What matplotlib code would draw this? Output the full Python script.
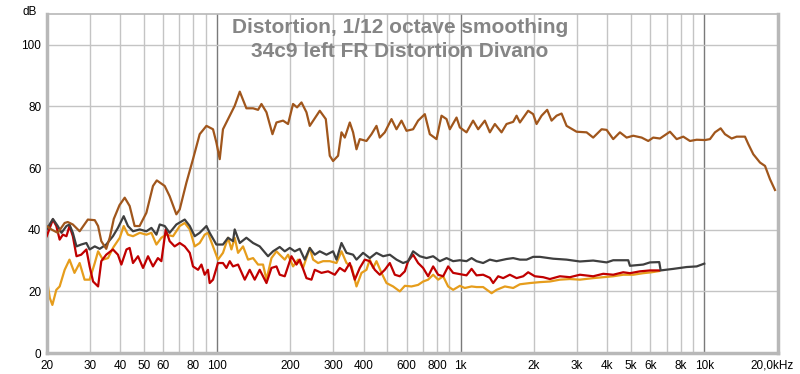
import numpy as np
import matplotlib.pyplot as plt
from matplotlib.transforms import ScaledTranslation

# fundamental (brown) - Hz / dB
brown_f = [20.0, 20.9, 22.2, 23.7, 24.4, 25.6, 27.3, 29.5, 31.5, 32.5, 33.5, 35.1, 36.3, 37.7, 39.8,
           41.8, 43.8, 45.9, 48.1, 51.3, 54.6, 56.6, 61.0, 63.9, 68.1, 70.3, 74.9, 79.7, 84.9, 90.5,
           96.3, 99.4, 102.6, 105.8, 112.8, 118.2, 124.0, 132.0, 140.6, 147.4, 152.2, 159.6, 168.9,
           175.4, 186.7, 195.7, 205.2, 213.1, 222.2, 232.9, 240.3, 264.1, 279.6, 290.3, 299.5, 314.0,
           324.3, 334.6, 350.8, 361.9, 373.7, 385.5, 410.7, 430.6, 451.4, 465.7, 488.3, 520.2, 545.4,
           571.8, 599.5, 638.1, 669.1, 712.9, 747.3, 796.2, 834.8, 875.2, 903.0, 962.0, 992.5, 1057,
           1125, 1180, 1257, 1318, 1382, 1472, 1543, 1643, 1697, 1751, 1893, 1985, 2049, 2149, 2266,
           2362, 2476, 2596, 2722, 2992, 3289, 3500, 3790, 3974, 4229, 4506, 4801, 5110, 5534, 5889,
           6174, 6579, 7231, 7703, 8200, 8737, 9308, 10067, 10553, 11064, 11676, 12162, 12956, 13584,
           14693, 15160, 15894, 16937, 17757, 18612, 19510]
brown_db = [41.2, 40.1, 39.0, 42.2, 42.5, 41.7, 39.5, 43.3, 43.1, 41.2, 36.3, 33.8, 37.5, 43.5, 48.0,
            50.4, 47.7, 41.2, 41.2, 45.5, 54.2, 56.0, 54.2, 50.9, 45.0, 46.6, 55.3, 62.9, 71.0, 73.7,
            72.6, 68.3, 62.9, 72.6, 77.0, 80.2, 84.8, 79.4, 79.4, 78.9, 80.8, 78.1, 71.0,
            74.8, 75.4, 74.3, 80.8, 79.7, 81.3, 78.1, 73.7, 78.6, 75.9, 64.0, 62.3, 64.0,
            71.6, 69.9, 74.8, 71.6, 66.1, 69.4, 68.8, 71.0, 73.7, 69.9, 71.6, 75.9, 72.6,
            75.4, 72.1, 72.6, 75.4, 77.5, 71.0, 69.4, 77.0, 75.9, 72.6, 76.4, 73.2, 71.6,
            75.4, 72.6, 75.4, 71.6, 74.3, 71.6, 74.3, 75.0, 77.0, 74.8, 78.6, 77.5, 74.3, 77.0, 78.9,
            75.4, 77.0, 77.7, 73.7, 71.8, 71.6, 69.9, 72.6, 72.4, 69.4, 71.6, 69.9, 70.5, 69.9, 68.8,
            69.9, 69.6, 71.8, 69.4, 70.2, 68.8, 69.2, 69.1, 69.4, 71.6, 72.9, 71.0, 69.6, 70.2,
            70.2, 67.8, 64.5, 61.8, 60.7, 56.4, 52.9]

# dark grey
grey_f = [20.0, 21.2, 22.2, 23.0, 24.1, 24.8, 25.6, 26.5, 27.7, 29.1, 30.0, 31.5, 33.0, 35.1, 37.4,
          39.2, 41.4, 43.1, 45.2, 48.2, 51.3, 53.8, 56.4, 58.2, 61.0, 63.9, 68.1, 73.7, 77.3, 81.0,
          84.9, 90.5, 93.3, 99.4, 105.8, 111.0, 116.3, 118.2, 124.0, 132.0, 140.6, 149.7, 162.0,
          169.8, 180.9, 189.7, 198.9, 208.5, 218.6, 229.2, 240.3, 251.9, 264.1, 281.4, 299.5, 309.3,
          324.3, 340.0, 361.9, 373.7, 397.7, 423.7, 451.4, 480.5, 512.0, 545.5, 580.6, 608.8, 638.2,
          679.9, 724.4, 771.2, 821.6, 875.3, 931.6, 992.5, 1057, 1109, 1162, 1237, 1318, 1404, 1543,
          1643, 1751, 1865, 1985, 2115, 2398, 2722, 3087, 3500, 3974, 4229, 4875, 4954, 5617, 5984,
          6535, 6622, 7458, 8469, 9308, 10000]
grey_db = [40.1, 43.5, 41.2, 39.0, 41.2, 41.7, 39.0, 34.6, 35.2, 35.7, 33.6, 34.6, 33.8, 35.2, 37.9,
           40.6, 44.4, 41.2, 39.5, 40.1, 39.5, 40.6, 38.4, 41.7, 41.2, 39.0, 41.7, 43.3, 41.2, 37.9,
           39.0, 41.2, 39.0, 35.2, 35.2, 37.4, 36.3, 40.1, 35.7, 37.4, 35.7, 34.6, 31.4,
           33.0, 34.4, 33.0, 34.1, 33.0, 33.8, 30.3, 34.1, 31.9, 33.0, 31.9, 33.0, 30.3,
           35.7, 32.5, 31.9, 30.3, 32.5, 30.8, 32.5, 31.4, 31.9, 30.3, 29.2, 29.8, 33.0,
           31.4, 30.8, 31.4, 29.8, 30.8, 29.8, 30.1, 29.8, 30.8, 29.8, 29.2, 30.3, 29.8, 30.5,
           30.8, 30.3, 30.3, 31.2, 31.2, 30.6, 30.3, 29.7, 30.0, 29.4, 30.1, 30.1, 28.3, 28.7, 29.4,
           29.5, 26.8, 27.3, 27.9, 28.1, 29.0]

# red
red_f = [20.0, 21.2, 21.9, 22.6, 23.3, 24.1, 24.8, 25.6, 26.5, 27.7, 29.1, 30.0, 31.0, 32.5, 33.5,
         35.1, 37.4, 39.2, 40.5, 42.5, 43.8, 45.2, 47.4, 49.7, 52.1, 54.6, 57.2, 59.1, 61.6, 63.9,
         67.0, 70.3, 73.7, 77.3, 79.7, 83.6, 86.3, 89.0, 91.8, 93.3, 96.3, 100.9, 105.8, 109.3,
         112.8, 116.3, 122.0, 130.0, 136.2, 142.8, 149.7, 159.6, 167.3, 175.4, 180.9, 189.7, 202.1,
         211.9, 218.6, 232.9, 244.2, 251.9, 268.4, 285.7, 304.4, 319.1, 334.6, 350.8, 367.8, 385.5,
         404.2, 423.7, 444.2, 465.7, 488.3, 512.0, 536.8, 562.8, 590.1, 608.8, 638.2, 669.1, 701.5,
         735.4, 771.2, 808.5, 847.6, 888.6, 931.6, 992.5, 1057, 1109, 1162, 1237, 1318, 1360, 1426,
         1495, 1592, 1697, 1806, 1893, 2017, 2182, 2324, 2555, 2808, 3087, 3500, 3848, 4229, 4649,
         4954, 5444, 5984, 6535]
red_db = [37.9, 43.3, 41.2, 36.8, 38.4, 37.9, 41.2, 37.9, 31.4, 31.9, 33.6, 28.1, 23.2, 21.6, 29.8,
          31.9, 33.6, 31.9, 28.7, 33.6, 34.1, 29.2, 31.4, 27.6, 31.4, 28.1, 30.8, 29.8, 40.1, 36.3,
          34.6, 35.7, 34.6, 32.5, 28.1, 27.0, 28.7, 25.4, 27.0, 22.7, 23.8, 29.2, 29.2, 27.6,
          29.8, 28.1, 28.7, 23.8, 27.0, 23.8, 27.0, 22.7, 27.6, 28.1, 25.4, 24.9, 31.4,
          28.7, 30.3, 24.3, 23.8, 27.0, 26.0, 26.5, 25.4, 27.6, 26.5, 29.2, 23.8, 27.6,
          30.3, 29.8, 27.0, 25.4, 27.0, 29.2, 25.4, 24.9, 26.5, 29.8, 31.9, 29.2, 27.6,
          24.9, 28.1, 25.4, 24.9, 28.1, 26.0, 25.6, 25.2, 27.3, 25.2, 25.4, 24.4, 22.7, 24.9,
          24.3, 25.4, 24.3, 24.9, 26.2, 24.9, 24.6, 24.0, 24.9, 24.6, 25.4, 24.9, 25.7, 25.4, 26.2,
          25.9, 26.5, 26.8, 26.8]

# orange
orange_f = [20.0, 20.6, 21.1, 21.9, 22.6, 23.7, 24.8, 26.0, 27.3, 28.6, 30.0, 31.5, 32.5, 34.0, 35.7,
            37.4, 39.9, 41.4, 43.1, 45.2, 48.2, 51.3, 53.8, 56.4, 59.1, 61.9, 66.0, 70.3, 73.7, 77.3,
            81.0, 84.9, 89.0, 91.8, 96.3, 100.9, 105.8, 111.0, 114.6, 118.2, 122.0, 127.9, 134.1,
            140.6, 147.4, 154.5, 159.6, 167.3, 175.4, 180.9, 189.7, 195.7, 205.2, 215.1, 225.5, 240.3,
            248.0, 259.9, 272.5, 290.3, 309.3, 324.3, 340.0, 356.5, 373.7, 391.8, 410.7, 423.7, 437.2,
            451.4, 473.3, 496.2, 528.2, 562.8, 590.1, 628.7, 669.1, 701.5, 735.4, 771.2, 808.5, 847.6,
            888.6, 931.6, 992.5, 1040, 1109, 1162, 1237, 1340, 1404, 1519, 1643, 1751, 1924, 2115,
            2324, 2555, 2808, 3087, 3500, 3848, 4229, 4649, 5110, 5617, 6081, 6535]
orange_db = [24.3, 17.8, 15.6, 20.5, 21.6, 27.0, 30.3, 26.0, 29.2, 23.8, 23.8, 29.2, 33.0, 30.3, 30.8,
             34.1, 37.4, 41.2, 38.4, 37.9, 39.0, 38.4, 39.0, 35.2, 37.4, 38.4, 37.9, 41.2, 42.2, 40.1,
             34.6, 35.7, 38.4, 39.0, 34.6, 30.3, 32.5, 37.4, 33.6, 37.4, 32.5, 34.6, 30.3,
             30.8, 28.7, 28.7, 23.8, 30.8, 33.0, 31.9, 30.3, 31.9, 28.1, 30.3, 27.6, 34.1,
             30.3, 29.2, 29.8, 29.8, 29.2, 33.0, 29.2, 28.1, 21.6, 26.0, 27.0, 30.3, 27.6,
             29.8, 26.0, 22.7, 21.6, 20.0, 21.8, 21.6, 22.1, 23.2, 23.8, 25.4, 23.8, 24.9,
             21.6, 20.5, 21.8, 21.1, 21.6, 21.4, 21.4, 19.4, 20.5, 21.6, 21.1, 22.3, 22.7, 23.0,
             23.2, 23.8, 24.0, 23.8, 24.3, 24.6, 24.9, 25.4, 25.4, 25.9, 26.2, 26.6]

xticks = [20, 30, 40, 50, 60, 80, 100, 200, 300, 400, 600, 800, 1000, 2000, 3000, 4000, 5000,
          6000, 8000, 10000, 20000]
xlabels = ["20", "30", "40", "50", "60", "80", "100", "200", "300", "400", "600", "800", "1k",
           "2k", "3k", "4k", "5k", "6k", "8k", "10k", "20,0kHz"]
yticks = [0, 20, 40, 60, 80, 100]

plt.rcParams['font.family'] = ['Liberation Sans', 'DejaVu Sans']

fig = plt.figure(figsize=(8, 3.74), dpi=100)
ax = fig.add_axes([0.0584, 0.0561, 0.9136, 0.9065])

ax.set_xscale('log')
ax.set_xlim(20, 20000)
ax.set_ylim(0, 110)

# grid: light lines every step, darker ones at decades
grid_minor = [f for dec in (10, 100, 1000) for f in np.arange(2, 10) * dec] + [20000]
for f in grid_minor:
    ax.axvline(f, color='#c4c4c4', lw=1.0, zorder=0)
for f in (100, 1000, 10000):
    ax.axvline(f, color='#7a7a7a', lw=1.0, zorder=0)
for y in yticks[1:]:
    ax.axhline(y, color='#c4c4c4', lw=1.0, zorder=0)

ax.plot(orange_f, orange_db, color='#e69d1c', lw=1.6, zorder=2)
ax.plot(red_f, red_db, color='#c00000', lw=1.6, zorder=3)
ax.plot(grey_f, grey_db, color='#3f3f3f', lw=1.6, zorder=4)
ax.plot(brown_f, brown_db, color='#a0561c', lw=1.6, zorder=5)

ax.set_xticks(xticks)
ax.set_xticklabels(xlabels)
ax.xaxis.set_minor_locator(plt.NullLocator())
ax.set_yticks(yticks)
ax.tick_params(length=0, labelsize=8.5, pad=4)
ax.tick_params(axis='x', pad=5)

# last label sits a bit left of its tick in the original
last = ax.get_xticklabels()[-1]
last.set_transform(last.get_transform() + ScaledTranslation(-0.06, 0, fig.dpi_scale_trans))

for side in ('left', 'bottom', 'right'):
    ax.spines[side].set_color('#b8b8b8')
    ax.spines[side].set_linewidth(2.5)
ax.spines['top'].set_color('#b8b8b8')
ax.spines['top'].set_linewidth(1.2)

fig.text(0.0375, 0.985, "dB", fontsize=8.5, ha='center', va='top')
fig.text(0.5, 0.912, "Distortion, 1/12 octave smoothing", fontsize=15, fontweight='bold',
         color='#858585', ha='center', va='baseline')
fig.text(0.5, 0.848, "34c9 left FR Distortion Divano", fontsize=15, fontweight='bold',
         color='#858585', ha='center', va='baseline')

fig.savefig('out.png', dpi=100)
